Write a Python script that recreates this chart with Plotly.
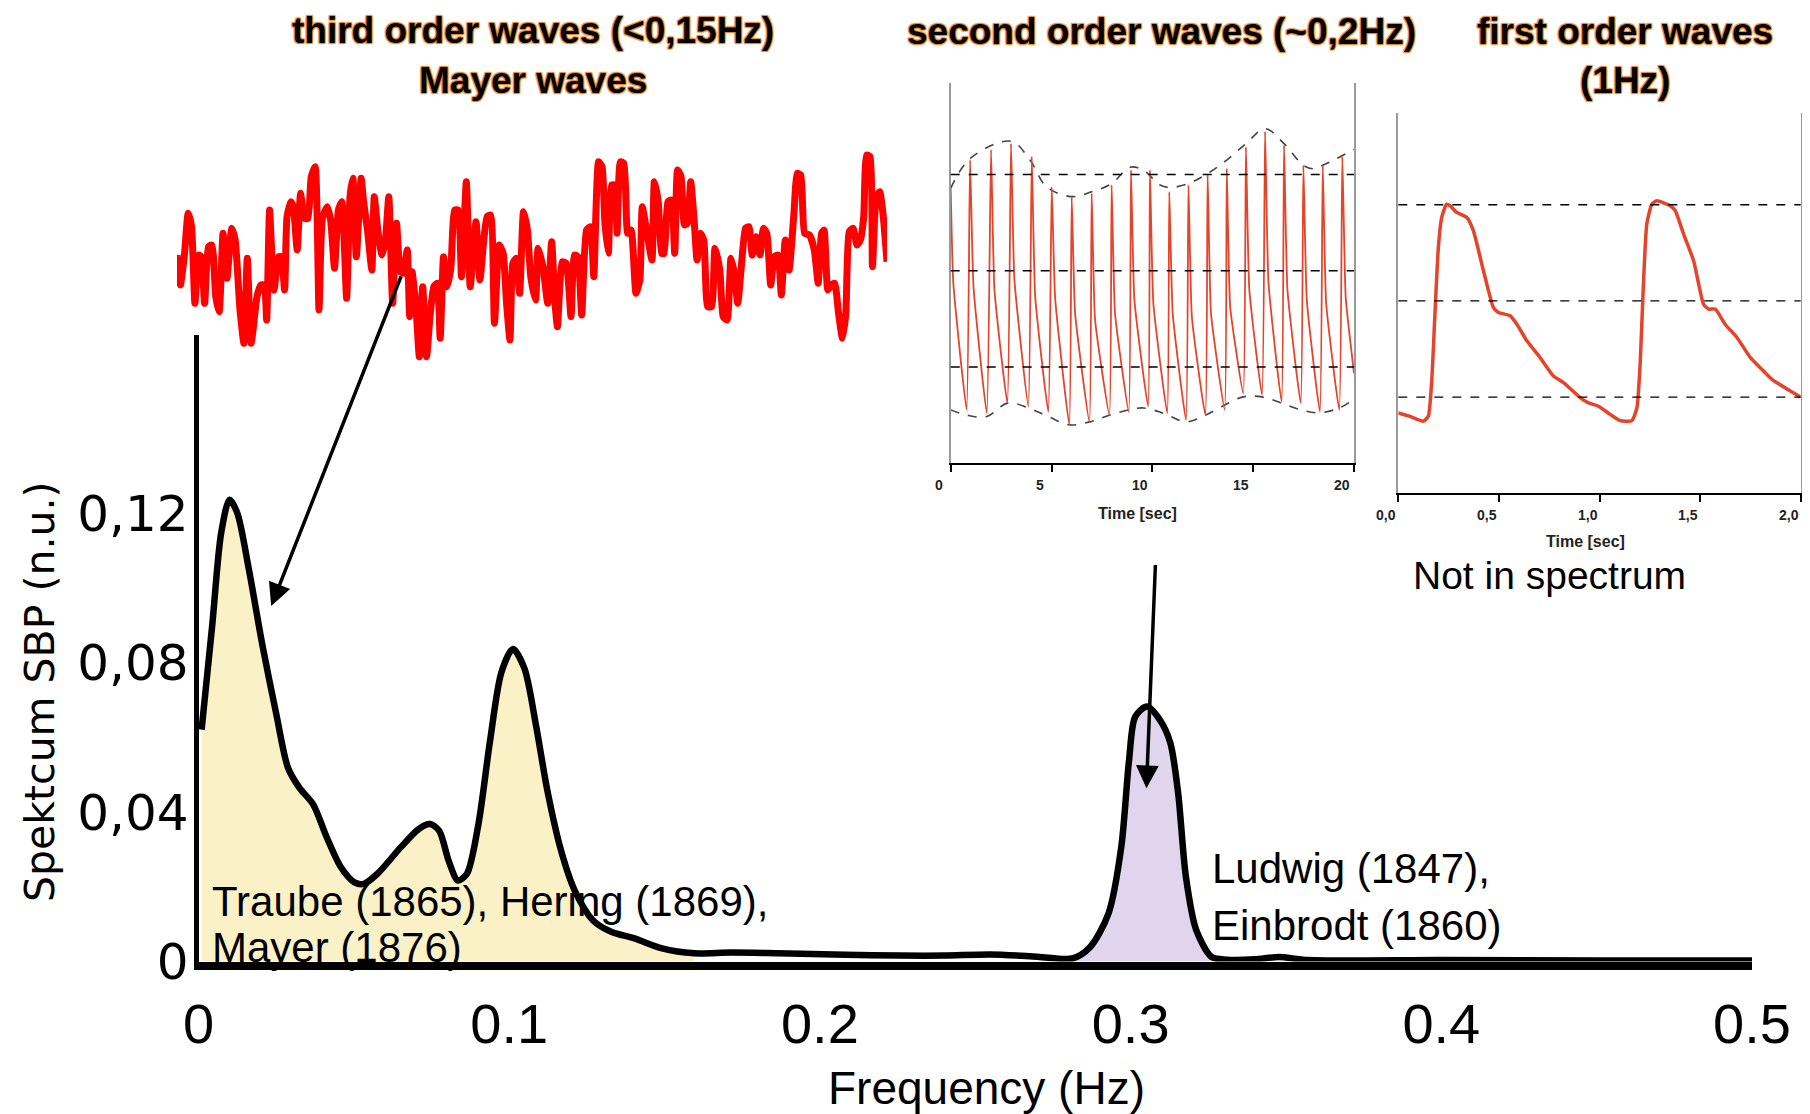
import numpy as np
import plotly.graph_objects as go

# ---------------- data: main spectrum ----------------
freq_hz = [0.001, 0.0044, 0.0073, 0.010, 0.0125, 0.0162, 0.0206, 0.0251, 0.0288, 0.0325,
           0.0369, 0.0413, 0.0458, 0.0502, 0.0532, 0.0576, 0.065, 0.0709, 0.0746, 0.0775,
           0.0805, 0.0835, 0.0864, 0.0901, 0.0938, 0.0975, 0.1012, 0.1049, 0.1086, 0.1123,
           0.1167, 0.1211, 0.127, 0.133, 0.1403, 0.1492, 0.1595, 0.1714, 0.1862, 0.2083,
           0.2258, 0.24, 0.255, 0.27, 0.2812, 0.287, 0.2929, 0.297, 0.2995, 0.3015,
           0.3053, 0.3095, 0.3128, 0.3153, 0.3178, 0.3211, 0.3261, 0.331, 0.34, 0.3477,
           0.357, 0.40, 0.45, 0.50]
spectrum_nu = [0.0621, 0.0899, 0.1148, 0.1237, 0.1201, 0.1051, 0.0846, 0.0660, 0.0519, 0.0465,
               0.0421, 0.0332, 0.0253, 0.0212, 0.0208, 0.0235, 0.0305, 0.0355, 0.0368, 0.0350,
               0.0270, 0.0217, 0.0235, 0.0368, 0.0589, 0.0775, 0.0837, 0.0785, 0.0634, 0.0457,
               0.0297, 0.0190, 0.0110, 0.0079, 0.0062, 0.0035, 0.0022, 0.0024, 0.0022, 0.0018,
               0.0016, 0.0016, 0.0019, 0.0013, 0.0008, 0.0039, 0.0129, 0.0307, 0.0539, 0.0656,
               0.0683, 0.0646, 0.0585, 0.0451, 0.0227, 0.0085, 0.0012, 0.0005, 0.0006, 0.0012,
               0.0004, 0.0004, 0.0003, 0.0003]
yellow_band_max = 0.16
purple_band = (0.28, 0.332)

x_tickvals = [0, 0.1, 0.2, 0.3, 0.4, 0.5]
x_ticktext = ["0", "0.1", "0.2", "0.3", "0.4", "0.5"]
y_tickvals = [0, 0.04, 0.08, 0.12]
y_ticktext = ["0", "0,04", "0,08", "0,12"]

# ---------------- data: Mayer wave trace (red) ----------------
mayer_t = [0, 0.7, 1.5, 2.3, 3, 3.7, 4.5, 5, 5.7, 6.5, 7.2, 8, 8.7, 9.5, 10.3, 11.3, 12, 13, 13.8, 14.5,
           15.3, 16.5, 17.3, 18, 18.5, 19.1, 20, 21, 21.5, 22.2, 22.7, 23.5, 24, 24.8, 25.5, 26.3, 27,
           27.7, 28.5, 29.3, 30, 31, 31.7, 32.5, 33.3, 34, 35, 35.7, 36.3, 37, 38, 38.5, 39.3, 40.2,
           40.7, 41.5, 42.3, 43, 43.7, 44.5, 45.3, 46.1, 46.7, 47.5, 48, 48.5, 49.3, 50, 50.7, 51.5,
           52.2, 53, 53.7, 54.3, 55, 55.7, 56.5, 57.3, 58, 58.7, 59.7, 60.5, 61.7, 62.5, 63.3, 64,
           64.7, 65.5, 66.5, 67.3, 68, 68.7, 69.3, 70, 70.7, 71.5, 72.3, 73, 74, 74.5, 75.5, 76.5,
           77.3, 78, 78.5, 79.5, 80.3, 81.3, 82, 82.7, 83.5, 84.5, 85.3, 86, 87, 87.7, 88.3, 89,
           89.7, 90.3, 90.8, 91.5, 92.2, 93, 93.7, 94.7, 95.5, 96, 97, 98, 98.5, 99.3, 100, 100.5,
           101.3, 102, 102.7, 103.3, 104, 104.7, 105.3, 106, 106.7, 107.3, 108, 108.7, 109.5, 110.3,
           111, 112, 112.7, 113.5, 114.3, 115, 115.7, 116.5, 117.3, 118, 118.7, 119.5, 120.3, 121,
           121.7, 122.5, 123.3, 124, 124.7, 125.5, 126.3, 127.3, 128, 128.7, 129.5, 130.5, 131.5,
           132.3, 133, 133.5, 134.3, 135, 135.7, 136.5, 137.3, 138, 138.7, 139.5, 140.3, 141, 141.7,
           142.3, 143, 143.5, 144.3, 145, 145.7, 146.5]
mayer_v = [34.5, 25.5, 34, 47, 43, 20, 34.5, 34, 20, 37, 37.5, 22, 17.5, 41, 27.5, 42.5, 39, 18, 8, 33.5,
           8, 22, 25.5, 25.5, 15, 48, 24, 34, 34, 24, 46, 50.5, 49, 36, 53, 45.5, 45.5,
           58, 61, 18, 45.5, 49, 45, 30.5, 48, 50.5, 21.5, 52, 57.5, 34, 57.5, 50.5, 42, 30,
           52, 41, 34.5, 39, 52, 20, 44, 29.5, 29, 36, 16, 29.5, 19, 4, 25, 4,
           16, 25, 26, 9.5, 34, 25, 30.5, 48, 48, 28, 56.5, 25, 44.5, 27, 39, 46,
           46.5, 14, 37.5, 35, 20, 9, 32, 33.5, 23, 47.5, 42, 28, 21, 36.5, 31, 20,
           38.5, 20, 13, 32.5, 32, 16, 34.5, 34, 16.5, 42, 43, 28, 62.5, 61, 44, 35,
           55.5, 55.5, 41, 62.5, 62, 41, 42, 23, 27, 49, 41, 33, 56.5, 50.5, 35, 35,
           50.5, 51, 35, 60, 58, 43.5, 44, 56.5, 45, 33, 41, 39, 19, 19,
           36.5, 30, 16, 15, 33.5, 29, 20, 32, 42.5, 43, 34.5, 40, 34.5, 42.5,
           41, 25.5, 34, 34.5, 22.5, 39, 30, 47, 59, 58.5, 41, 40.5, 36,
           26, 41, 42, 24, 25.5, 26, 17, 9.5, 17, 41.5, 42.5, 37.5, 39, 46,
           64.5, 64, 31, 52, 53.5, 46.5, 32.5]

# ---------------- data: second order waves inset (20 s) ----------------
so_trough_t = [0.79, 1.79, 2.81, 3.85, 4.84, 5.88, 6.88, 7.87, 8.83, 9.79, 10.74, 11.67, 12.63, 13.59, 14.51, 15.44, 16.41, 17.36, 18.31, 19.27]
so_trough_v = [91.1, 90.4, 92.5, 91.8, 90.7, 88.0, 88.6, 90.0, 90.7, 91.8, 90.4, 89.0, 90.0, 91.1, 94.5, 94.2, 92.8, 92.5, 90.7, 91.1]
so_peak_t = [0.96, 2.00, 2.99, 4.02, 5.01, 6.00, 6.99, 7.98, 8.94, 9.88, 10.84, 11.79, 12.74, 13.69, 14.64, 15.59, 16.53, 17.49, 18.45, 19.42]
so_peak_v = [143.0, 145.1, 146.4, 143.7, 137.4, 135.4, 136.1, 137.8, 140.9, 140.9, 136.4, 137.8, 139.9, 141.2, 145.7, 148.9, 146.1, 141.9, 141.9, 143.7]
so_notch_t = [1.13, 2.17, 3.16, 4.19, 5.18, 6.17, 7.16, 8.15, 9.11, 10.05, 11.01, 11.96, 12.91, 13.86, 14.81, 15.76, 16.70, 17.66, 18.62, 19.59]
so_notch_v = [116.7, 116.0, 118.1, 114.6, 114.3, 111.1, 109.8, 111.1, 113.9, 113.2, 111.1, 110.4, 111.1, 112.5, 116.0, 117.4, 116.0, 113.9, 113.2, 114.3]
so_start = [(0.0, 137.1), (0.13, 117.4)]
so_end = (20.0, 98.7)

so_upper_t = [0, 0.96, 2.99, 3.93, 4.76, 6.0, 6.99, 7.98, 8.89, 9.55, 10.38, 10.88, 11.79, 12.74, 13.69, 14.64, 15.59, 16.53, 17.49, 17.98, 18.45, 20.0]
so_upper_v = [137.1, 143.3, 146.9, 143.0, 137.4, 135.4, 136.4, 138.1, 141.5, 140.9, 137.8, 137.3, 138.1, 140.2, 143.0, 146.4, 149.5, 146.4, 141.9, 141.2, 141.9, 145.2]
so_lower_t = [0, 0.79, 1.79, 2.81, 3.85, 4.84, 5.88, 6.88, 7.87, 8.83, 9.55, 10.55, 11.67, 12.63, 13.59, 14.51, 15.44, 16.41, 17.36, 18.31, 19.27, 20.0]
so_lower_v = [91.1, 90.0, 89.7, 92.5, 91.5, 89.7, 88.0, 88.6, 90.0, 91.1, 91.5, 90.4, 88.6, 90.0, 92.1, 93.8, 93.8, 92.5, 91.1, 90.5, 91.5, 93.3]
so_ticks = [0, 5, 10, 15, 20]
so_ticktext = ["0", "5", "10", "15", "20"]

# ---------------- data: first order waves inset (2 s) ----------------
fo_t = [0, 0.058, 0.124, 0.149, 0.166, 0.182, 0.199, 0.216, 0.240, 0.257, 0.290, 0.340, 0.373, 0.423,
        0.473, 0.498, 0.556, 0.590, 0.639, 0.705, 0.771, 0.821, 0.904, 0.945, 0.995, 1.053, 1.103,
        1.161, 1.186, 1.202, 1.219, 1.235, 1.260, 1.285, 1.352, 1.376, 1.418, 1.468, 1.517, 1.542,
        1.575, 1.625, 1.683, 1.750, 1.799, 1.857, 1.924, 2.0]
fo_v = [96.7, 96.0, 95.0, 96.0, 103.3, 117.2, 131.1, 137.4, 140.1, 139.8, 138.4, 137.4, 134.6, 126.3,
        118.6, 117.6, 116.9, 115.1, 111.7, 108.2, 104.4, 103.0, 99.9, 98.8, 98.1, 96.4, 95.1,
        95.1, 97.8, 106.8, 124.2, 136.0, 140.1, 140.8, 139.8, 138.8, 133.9, 128.3, 119.3, 118.3,
        118.3, 115.1, 112.4, 108.2, 106.1, 103.7, 101.9, 100.0]
fo_ticks = [0, 0.5, 1.0, 1.5, 2.0]
fo_ticktext = ["0,0", "0,5", "1,0", "1,5", "2,0"]

ref_levels = [100, 120, 140]   # dashed reference levels (mmHg)

# ---------------- styling ----------------
SANS = "Liberation Sans, Arial, sans-serif"
DEJAVU = "DejaVu Sans, Verdana, sans-serif"
YELLOW = "#FBF1C6"
PURPLE = "#E0D5EC"
INSET_RED = "#E5432A"
GLOW = "-1px -1px 1px #E8892E, 1px -1px 1px #E8892E, -1px 1px 1px #E8892E, 1px 1px 1px #E8892E"

fig = go.Figure()

f = np.array(freq_hz)
s = np.array(spectrum_nu)
m_y = f <= yellow_band_max
m_p = (f >= purple_band[0]) & (f <= purple_band[1])

fig.add_trace(go.Scatter(x=f[m_y], y=s[m_y], mode="lines", fill="tozeroy", fillcolor=YELLOW,
                         line=dict(width=0, shape="spline", smoothing=0.8), xaxis="x", yaxis="y"))
fig.add_trace(go.Scatter(x=f[m_p], y=s[m_p], mode="lines", fill="tozeroy", fillcolor=PURPLE,
                         line=dict(width=0, shape="spline", smoothing=0.8), xaxis="x", yaxis="y"))
fig.add_trace(go.Scatter(x=f, y=s, mode="lines",
                         line=dict(color="black", width=6.5, shape="spline", smoothing=0.8),
                         xaxis="x", yaxis="y"))

# red Mayer-wave trace
fig.add_trace(go.Scatter(x=mayer_t, y=mayer_v, mode="lines",
                         line=dict(color="#FF0000", width=7, shape="spline", smoothing=0.5),
                         xaxis="x2", yaxis="y2"))

# second-order inset
so_x, so_y = [p[0] for p in so_start], [p[1] for p in so_start]
for i in range(len(so_peak_t)):
    so_x += [so_trough_t[i], so_peak_t[i], so_notch_t[i]]
    so_y += [so_trough_v[i], so_peak_v[i], so_notch_v[i]]
so_x.append(so_end[0]); so_y.append(so_end[1])
fig.add_trace(go.Scatter(x=so_upper_t, y=so_upper_v, mode="lines",
                         line=dict(color="#444", width=1.6, dash="dash", shape="spline"),
                         xaxis="x3", yaxis="y3"))
fig.add_trace(go.Scatter(x=so_lower_t, y=so_lower_v, mode="lines",
                         line=dict(color="#444", width=1.6, dash="dash", shape="spline"),
                         xaxis="x3", yaxis="y3"))
fig.add_trace(go.Scatter(x=so_x, y=so_y, mode="lines",
                         line=dict(color=INSET_RED, width=1.8, shape="spline", smoothing=0.4),
                         xaxis="x3", yaxis="y3"))

# first-order inset
fig.add_trace(go.Scatter(x=fo_t, y=fo_v, mode="lines",
                         line=dict(color=INSET_RED, width=3.5, shape="spline", smoothing=0.5),
                         xaxis="x4", yaxis="y4"))

shapes = []
for lv in ref_levels:
    shapes.append(dict(type="line", xref="x3 domain", yref="y3", x0=0, x1=1, y0=lv, y1=lv,
                       line=dict(color="black", width=1.6, dash="dash"), layer="above"))
    shapes.append(dict(type="line", xref="x4 domain", yref="y4", x0=0, x1=1, y0=lv, y1=lv,
                       line=dict(color="black", width=1.4, dash="dash"), layer="above"))

# page offset compensation (the html body has an 8px margin)
OFF = 8
W, H = 1810 - OFF, 1114 - OFF
def px(x):
    return (x - OFF) / W
def py(y):
    return 1 - (y - OFF) / H

NOAM = dict(automargin=False)

layout = dict(
    width=W, height=H, margin=dict(l=0, r=0, t=0, b=0, pad=0, autoexpand=False),
    paper_bgcolor="white", plot_bgcolor="rgba(0,0,0,0)", showlegend=False,
    xaxis=dict(domain=[px(198.5), px(1752)], range=[0, 0.5], anchor="y",
               showgrid=False, zeroline=False, showline=True, linecolor="black", linewidth=8,
               tickvals=x_tickvals, ticktext=x_ticktext, ticks="", ticklabeloverflow="allow",
               tickfont=dict(family=SANS, size=56, color="black"), ticklabelstandoff=6, **NOAM),
    yaxis=dict(domain=[py(961.5), py(335)], range=[0, 0.1678], anchor="x",
               showgrid=False, zeroline=False, showline=True, linecolor="black", linewidth=5,
               tickvals=y_tickvals, ticktext=y_ticktext, ticks="",
               tickfont=dict(family=DEJAVU, size=50, color="black"), ticklabelstandoff=-5, **NOAM),
    xaxis2=dict(domain=[px(177), px(887)], range=[0, 146.5], anchor="y2", visible=False, **NOAM),
    yaxis2=dict(domain=[py(370), py(130)], range=[0, 72], anchor="x2", visible=False, **NOAM),
    xaxis3=dict(domain=[px(950.7), px(1354)], range=[0, 20], anchor="y3",
                showgrid=False, zeroline=False, showline=True, linecolor="black", linewidth=1.6,
                tickvals=so_ticks, ticks="outside", ticklen=7, tickwidth=1.6, tickcolor="black",
                showticklabels=False, **NOAM),
    yaxis3=dict(domain=[py(463.3), py(83)], range=[80, 159], anchor="x3",
                showgrid=False, zeroline=False, showline=True, mirror=True, linecolor="#9A9A9A",
                linewidth=1.5, showticklabels=False, ticks="", **NOAM),
    xaxis5=dict(overlaying="x3", anchor="y3", range=[0, 20], side="bottom",
                showgrid=False, zeroline=False, showline=False, tickvals=so_ticks, ticks="inside",
                ticklen=7, tickwidth=1.6, tickcolor="black", showticklabels=False, **NOAM),
    xaxis4=dict(domain=[px(1398.3), px(1800.7)], range=[0, 2], anchor="y4",
                showgrid=False, zeroline=False, showline=True, linecolor="black", linewidth=1.6,
                tickvals=fo_ticks, ticks="outside", ticklen=7, tickwidth=1.6,
                tickcolor="black", showticklabels=False, **NOAM),
    yaxis4=dict(domain=[py(493.3), py(113.3)], range=[80, 159], anchor="x4",
                showgrid=False, zeroline=False, showline=True, mirror=True, linecolor="#9A9A9A",
                linewidth=1.5, showticklabels=False, ticks="", **NOAM),
    xaxis6=dict(overlaying="x4", anchor="y4", range=[0, 2], side="bottom",
                showgrid=False, zeroline=False, showline=False, tickvals=fo_ticks, ticks="inside",
                ticklen=7, tickwidth=1.6, tickcolor="black", showticklabels=False, **NOAM),
    shapes=shapes,
)
fig.update_layout(**layout)

title_font = dict(family=SANS, size=37, color="black", weight="bold", shadow=GLOW)
body_font = dict(family=SANS, size=42, color="black")
inset_font = dict(family=SANS, size=14, color="#222", weight="bold")
inset_title_font = dict(family=SANS, size=16, color="#222", weight="bold")
ann = [
    dict(text="third order waves (<0,15Hz)", x=px(533), y=py(30), font=title_font),
    dict(text="Mayer waves", x=px(533), y=py(80), font=title_font),
    dict(text="second order waves (~0,2Hz)", x=px(1161), y=py(31), font=title_font),
    dict(text="first order waves", x=px(1625), y=py(31), font=title_font),
    dict(text="(1Hz)", x=px(1625), y=py(81), font=title_font),
    dict(text="Not in spectrum", x=px(1549), y=py(575), font=dict(family=SANS, size=39, color="black")),
    dict(text="Traube (1865), Hering (1869),", x=px(210), y=py(902), xanchor="left", font=body_font),
    dict(text="Mayer (1876)", x=px(210), y=py(947), xanchor="left", font=body_font),
    dict(text="Ludwig (1847),", x=px(1210), y=py(868), xanchor="left", font=body_font),
    dict(text="Einbrodt (1860)", x=px(1210), y=py(925), xanchor="left", font=body_font),
    dict(text="Frequency (Hz)", x=px(987), y=py(1088), font=dict(family=SANS, size=46, color="black")),
    dict(text="Spektcum SBP (n.u.)", x=px(40), y=py(692), textangle=-90,
         font=dict(family=DEJAVU, size=41, color="black")),
    dict(text="Time [sec]", x=px(1137), y=py(513), font=inset_title_font),
    dict(text="Time [sec]", x=px(1585), y=py(541), font=inset_title_font),
]
for a in ann:
    a.setdefault("xanchor", "center")
    fig.add_annotation(xref="paper", yref="paper", yanchor="middle", showarrow=False, **a)

# inset tick labels (printed slightly left of their ticks, as in the source figure)
for tv, tt in zip(so_ticks, so_ticktext):
    fig.add_annotation(x=tv, y=0, xref="x3", yref="y3 domain", text=tt, showarrow=False,
                       xanchor="center", yanchor="middle", xshift=-12, yshift=-22, font=inset_font)
for tv, tt in zip(fo_ticks, fo_ticktext):
    fig.add_annotation(x=tv, y=0, xref="x4", yref="y4 domain", text=tt, showarrow=False,
                       xanchor="center", yanchor="middle", xshift=-12, yshift=-22, font=inset_font)

# arrows (head at spectrum, tail at the wave traces)
fig.add_annotation(x=0.0234, y=0.0952, ax=0.0654, ay=0.1839, xref="x", yref="y", axref="x", ayref="y",
                   text="", showarrow=True, arrowhead=2, arrowsize=1.3, arrowwidth=3.5, arrowcolor="black")
fig.add_annotation(x=0.3051, y=0.0464, ax=0.308, ay=0.1066, xref="x", yref="y", axref="x", ayref="y",
                   text="", showarrow=True, arrowhead=2, arrowsize=1.3, arrowwidth=3.5, arrowcolor="black")

fig.write_html("out.html")
